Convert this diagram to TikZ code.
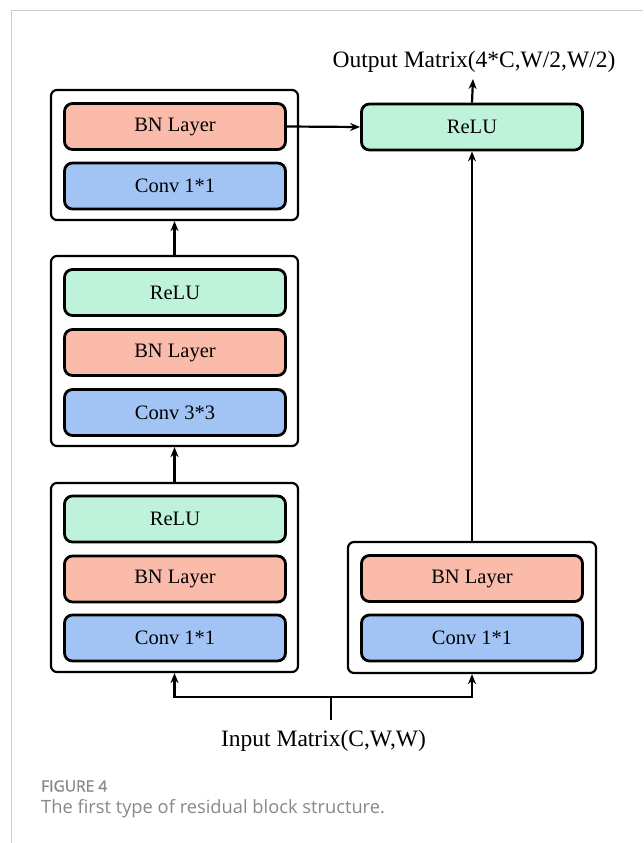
\documentclass[tikz,border=0pt]{standalone}
\usepackage{fontspec}
\setmainfont{Liberation Serif}
\newfontfamily\capfont{Open Sans}
\usetikzlibrary{arrows.meta}
\definecolor{bnc}{RGB}{250,187,170}
\definecolor{reluc}{RGB}{190,242,218}
\definecolor{convc}{RGB}{161,196,245}
\definecolor{framec}{RGB}{204,204,204}
\definecolor{capc}{RGB}{136,136,136}
\tikzset{
  layer/.style={draw=black, line width=2.8pt, rounded corners=8pt, minimum width=221pt, minimum height=46pt, inner sep=0pt, font=\fontsize{20.5}{24}\selectfont},
  bn/.style={layer, fill=bnc},
  relu/.style={layer, fill=reluc},
  conv/.style={layer, fill=convc},
  group/.style={draw=black, line width=2.2pt, rounded corners=6pt, fill=white, inner sep=0pt},
  conn/.style={line width=2.2pt, -{Stealth[length=10pt,width=8pt]}},
  wire/.style={line width=2.2pt},
  label/.style={font=\fontsize{23.5}{27}\selectfont, inner sep=0pt}
}
\begin{document}
\begin{tikzpicture}[x=1pt,y=-1pt]
\useasboundingbox (0,0) rectangle (643,843);
\fill[white] (0,0) rectangle (643,843);
\draw[framec, line width=1pt] (643,11) -- (11,11) -- (11,843);
% outer groups
\node[group, minimum width=247pt, minimum height=130pt] (g1) at (174.5,155) {};
\node[group, minimum width=247pt, minimum height=190pt] (g2) at (174.5,351) {};
\node[group, minimum width=247pt, minimum height=189pt] (g3) at (174.5,577.5) {};
\node[group, minimum width=248pt, minimum height=131pt] (g4) at (472,607.5) {};
% layers
\node[bn] (bn1) at (175,126.5) {BN Layer};
\node[conv] (conv1) at (175,186) {Conv 1*1};
\node[relu] (relu2) at (175,292.5) {ReLU};
\node[bn] (bn2) at (175,352.5) {BN Layer};
\node[conv] (conv2) at (175,412.5) {Conv 3*3};
\node[relu] (relu3) at (175,519) {ReLU};
\node[bn] (bn3) at (175,579) {BN Layer};
\node[conv] (conv3) at (175,638) {Conv 1*1};
\node[bn] (bn4) at (472,578.5) {BN Layer};
\node[conv] (conv4) at (472,638) {Conv 1*1};
\node[relu] (relu5) at (472,127) {ReLU};
% labels
\node[label] (out) at (474,62) {Output Matrix(4*C,W/2,W/2)};
\node[label] (inp) at (323.5,741) {Input Matrix(C,W,W)};
\coordinate (outend) at (473,79);
\coordinate (instart) at (331,720);
\coordinate (junc) at (331,697);
% connectors
\draw[conn] (g3.north) -- (g2.south);
\draw[conn] (g2.north) -- (g1.south);
\draw[conn] (bn1.east) -- (relu5.west);
\draw[conn] (g4.north) -- (relu5.south);
\draw[conn] (relu5.north) -- (outend);
\draw[wire] (instart) -- (junc);
\draw[conn] (junc) -| (g3.south);
\draw[conn] (junc) -| (g4.south);
% caption
\node[anchor=west, inner sep=0pt, text=capc, font=\capfont\fontsize{15.5}{18}\selectfont\addfontfeature{FakeBold=0.8}] (fig) at (41,786) {FIGURE 4};
\node[anchor=west, inner sep=0pt, text=capc, font=\capfont\fontsize{18.3}{22}\selectfont] (cap) at (41,809) {The first type of residual block structure.};
\end{tikzpicture}
\end{document}
